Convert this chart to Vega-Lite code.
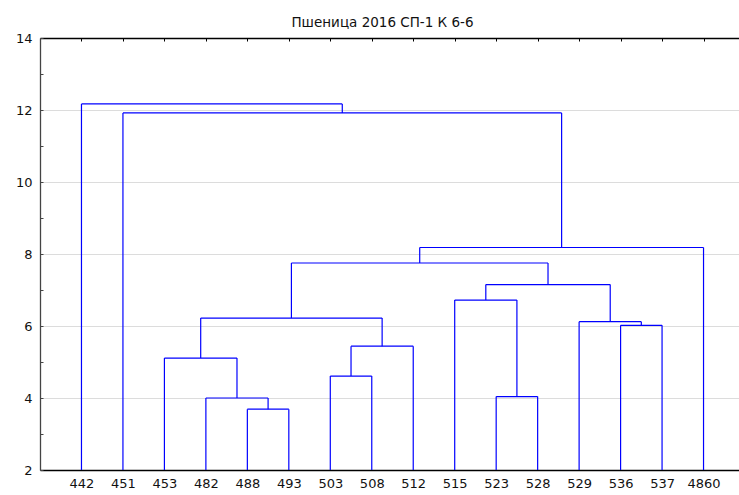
{
  "$schema": "https://vega.github.io/schema/vega-lite/v6.json",
  "autosize": "none",
  "padding": {"left": 40, "top": 38, "right": 0, "bottom": 25},
  "width": 705,
  "height": 432,
  "background": "white",
  "title": {
    "text": "Пшеница 2016 СП-1 К 6-6",
    "font": "DejaVu Sans",
    "fontSize": 13.5,
    "fontWeight": "normal",
    "color": "#111",
    "anchor": "middle",
    "dx": -10,
    "offset": 3
  },
  "config": {
    "view": {"stroke": null},
    "axis": {"labelFont": "DejaVu Sans", "labelFontSize": 13, "labelColor": "#111"}
  },
  "resolve": {"axis": {"x": "independent", "y": "independent"}},
  "data": {
    "values": [
      {"merge": "A", "left": 5, "right": 6, "leftH": 2, "rightH": 2, "height": 3.69},
      {"merge": "B", "left": 4, "right": 5.5, "leftH": 2, "rightH": 3.69, "height": 4.0},
      {"merge": "C", "left": 3, "right": 4.75, "leftH": 2, "rightH": 4.0, "height": 5.11},
      {"merge": "D", "left": 7, "right": 8, "leftH": 2, "rightH": 2, "height": 4.61},
      {"merge": "E", "left": 7.5, "right": 9, "leftH": 4.61, "rightH": 2, "height": 5.44},
      {"merge": "F", "left": 3.875, "right": 8.25, "leftH": 5.11, "rightH": 5.44, "height": 6.22},
      {"merge": "G", "left": 11, "right": 12, "leftH": 2, "rightH": 2, "height": 4.04},
      {"merge": "H", "left": 10, "right": 11.5, "leftH": 2, "rightH": 4.04, "height": 6.72},
      {"merge": "I", "left": 14, "right": 15, "leftH": 2, "rightH": 2, "height": 6.02},
      {"merge": "J", "left": 13, "right": 14.5, "leftH": 2, "rightH": 6.02, "height": 6.12},
      {"merge": "K", "left": 10.75, "right": 13.75, "leftH": 6.72, "rightH": 6.12, "height": 7.15},
      {"merge": "L", "left": 6.0625, "right": 12.25, "leftH": 6.22, "rightH": 7.15, "height": 7.75},
      {"merge": "M", "left": 9.15625, "right": 16, "leftH": 7.75, "rightH": 2, "height": 8.18},
      {"merge": "N", "left": 2, "right": 12.578125, "leftH": 2, "rightH": 8.18, "height": 11.92},
      {"merge": "O", "left": 1, "right": 7.2890625, "leftH": 2, "rightH": 11.92, "height": 12.17}
    ]
  },
  "layer": [
    {
      "mark": {"type": "rule", "color": "#0000ff", "strokeWidth": 1.2},
      "encoding": {
        "x": {
          "field": "left", "type": "quantitative",
          "scale": {"domain": [0, 17], "nice": false, "zero": false},
          "axis": {
            "title": null,
            "values": [1,2,3,4,5,6,7,8,9,10,11,12,13,14,15,16],
            "labelExpr": "['442','451','453','482','488','493','503','508','512','515','523','528','529','536','537','4860'][datum.value - 1]",
            "ticks": false,
            "grid": false,
            "domainColor": "#000",
            "domainWidth": 1.3,
            "labelPadding": 7,
            "labelAlign": "center",
            "labelFlush": false,
            "labelOverlap": false
          }
        },
        "x2": {"field": "right"},
        "y": {
          "field": "height", "type": "quantitative",
          "scale": {"domain": [2, 14], "nice": false, "zero": false},
          "axis": {
            "title": null,
            "values": [2,4,6,8,10,12,14],
            "ticks": false,
            "domainColor": "#444",
            "domainWidth": 1.3,
            "labelPadding": 8,
            "labelFlush": false,
            "gridColor": "#dcdcdc",
            "gridWidth": 1
          }
        }
      }
    },
    {
      "mark": {"type": "rule", "color": "#0000ff", "strokeWidth": 1.2},
      "encoding": {
        "x": {"field": "left", "type": "quantitative",
          "axis": {
            "orient": "top",
            "title": null,
            "labels": false,
            "grid": false,
            "ticks": false,
            "domainColor": "#000",
            "domainWidth": 1.3
          }
        },
        "y": {"field": "leftH", "type": "quantitative", "axis": null},
        "y2": {"field": "height"}
      }
    },
    {
      "mark": {"type": "rule", "color": "#0000ff", "strokeWidth": 1.2},
      "encoding": {
        "x": {"field": "right", "type": "quantitative",
          "axis": {
            "orient": "top",
            "offset": -3,
            "title": null,
            "values": [1,2,3,4,5,6,7,8,9,10,11,12,13,14,15,16],
            "labels": false,
            "grid": false,
            "domain": false,
            "ticks": true,
            "tickSize": 3,
            "tickWidth": 1,
            "tickColor": "#000"
          }
        },
        "y": {"field": "rightH", "type": "quantitative",
          "axis": {
            "orient": "left",
            "offset": -3,
            "title": null,
            "values": [2,3,4,5,6,7,8,9,10,11,12,13,14],
            "labels": false,
            "grid": false,
            "domain": false,
            "ticks": true,
            "tickSize": 3,
            "tickWidth": 1,
            "tickColor": "#444"
          }
        },
        "y2": {"field": "height"}
      }
    }
  ]
}
